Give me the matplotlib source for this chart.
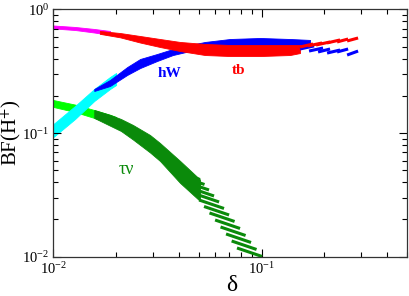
import numpy as np
import matplotlib
matplotlib.use("Agg")
import matplotlib.pyplot as plt

plt.rcParams['font.family'] = ['Liberation Serif', 'DejaVu Serif']
plt.rcParams['mathtext.fontset'] = 'stix'

# tau nu channel: light part (delta < 0.02) and dark part
tau_light_d = [0.010, 0.0127, 0.0157, 0.0187, 0.0200]
tau_light_hi = [0.185, 0.170, 0.1537, 0.1405, 0.135]
tau_light_lo = [0.1626, 0.148, 0.1325, 0.1207, 0.1163]

tau_dark_d = [0.0157, 0.0187, 0.0211, 0.0241, 0.0291, 0.0325, 0.0406, 0.0506]
tau_dark_hi = [0.1537, 0.1405, 0.130, 0.1163, 0.0965, 0.0831, 0.0595, 0.0421]
tau_dark_lo = [0.1325, 0.1148, 0.1040, 0.0887, 0.0697, 0.0595, 0.0395, 0.0282]

# tail of the tau nu band: single curves (left end -> right end)
tau_tail_d0 = [0.0762, 0.0718, 0.0675, 0.0635, 0.0598, 0.0562, 0.0529,
               0.0501, 0.0474, 0.0448, 0.0424, 0.0403, 0.0384]
tau_tail_b0 = [0.01176, 0.01340, 0.01527, 0.01739, 0.01981, 0.02258, 0.02548,
               0.02875, 0.03246, 0.03630, 0.04059, 0.04497, 0.04935]
tau_tail_d1 = [0.1006, 0.0946, 0.0890, 0.0838, 0.0788, 0.0742, 0.0698,
               0.0660, 0.0625, 0.0591, 0.0559, 0.0532, 0.0506]
tau_tail_b1 = [0.01004, 0.01144, 0.01303, 0.01484, 0.01691, 0.01927, 0.02175,
               0.02455, 0.02771, 0.03098, 0.03465, 0.03837, 0.04212]

# hW channel
hw_light_d = [0.010, 0.0127, 0.0157, 0.0187, 0.0200]
hw_light_hi = [0.1185, 0.1657, 0.2274, 0.2844, 0.3063]
hw_light_lo = [0.0930, 0.130, 0.1818, 0.2274, 0.2449]

hw_dark_d = [0.0157, 0.0187, 0.0226, 0.0261, 0.0315, 0.0375, 0.0453, 0.0535,
             0.0706, 0.0984, 0.137, 0.171]
hw_dark_hi = [0.2274, 0.2690, 0.342, 0.3977, 0.4365, 0.479, 0.516, 0.546,
              0.577, 0.588, 0.577, 0.567]
hw_dark_lo = [0.2191, 0.2404, 0.2952, 0.336, 0.3832, 0.428, 0.461, 0.479,
              0.497, 0.507, 0.497, 0.507]

hw_tail_d0 = [0.1531, 0.1691, 0.1869, 0.2065, 0.2307, 0.2577]
hw_tail_b0 = [0.479, 0.461, 0.453, 0.444, 0.453, 0.428]
hw_tail_d1 = [0.1788, 0.1975, 0.2134, 0.2384, 0.2606, 0.2910]
hw_tail_b1 = [0.507, 0.488, 0.479, 0.470, 0.479, 0.461]

# tb channel
tb_light_d = [0.010, 0.0127, 0.0157, 0.0187]
tb_light_hi = [0.742, 0.722, 0.6955, 0.670]
tb_light_lo = [0.702, 0.682, 0.651, 0.622]

tb_dark_d = [0.0167, 0.0209, 0.0261, 0.0325, 0.0406, 0.0535, 0.0706, 0.0984,
             0.137, 0.153]
tb_dark_hi = [0.670, 0.645, 0.610, 0.577, 0.546, 0.526, 0.516, 0.516,
              0.516, 0.516]
tb_dark_lo = [0.635, 0.595, 0.540, 0.497, 0.461, 0.428, 0.420, 0.420,
              0.428, 0.444]

tb_tail_d0 = [0.1531, 0.1673, 0.1828, 0.2065, 0.2307, 0.2577]
tb_tail_b0 = [0.497, 0.507, 0.516, 0.536, 0.546, 0.556]
tb_tail_d1 = [0.1768, 0.1954, 0.2134, 0.2384, 0.2606, 0.2910]
tb_tail_b1 = [0.526, 0.536, 0.546, 0.567, 0.577, 0.588]

GREEN = '#0a8a0a'

fig = plt.figure(figsize=(4.09, 2.96), dpi=100)
ax = fig.add_axes([0.1308, 0.1328, 0.8643, 0.8352])
ax.set_xscale('log')
ax.set_yscale('log')


def band(d, lo, hi, color):
    ax.fill_between(d, lo, hi, color=color, lw=0.6, edgecolor=color)


def tail(d0, b0, d1, b1, color):
    for i in range(len(d0)):
        ax.plot([d0[i], d1[i]], [b0[i], b1[i]], color=color, lw=2.2,
                solid_capstyle='butt')


band(tau_light_d, tau_light_lo, tau_light_hi, '#00ff00')
band(tau_dark_d, tau_dark_lo, tau_dark_hi, GREEN)
tail(tau_tail_d0, tau_tail_b0, tau_tail_d1, tau_tail_b1, GREEN)

band(hw_light_d, hw_light_lo, hw_light_hi, '#00ffff')
band(hw_dark_d, hw_dark_lo, hw_dark_hi, '#0000ff')
tail(hw_tail_d0, hw_tail_b0, hw_tail_d1, hw_tail_b1, '#0000ff')

band(tb_light_d, tb_light_lo, tb_light_hi, '#ff00ff')
band(tb_dark_d, tb_dark_lo, tb_dark_hi, '#ff0000')
tail(tb_tail_d0, tb_tail_b0, tb_tail_d1, tb_tail_b1, '#ff0000')

ax.text(0.0359, 0.306, 'hW', color='#0000ff', fontsize=11, fontweight='bold',
        ha='center', va='center')
ax.text(0.0771, 0.318, 'tb', color='#ff0000', fontsize=11, fontweight='bold',
        ha='center', va='center')
ax.text(0.0223, 0.0503, 'τν', color=GREEN, fontsize=13,
        ha='center', va='center')

ax.set_xlim(0.01, 0.5)
ax.set_ylim(0.01, 1.0)
ax.set_xlabel('δ', fontsize=17)
ax.set_ylabel(r'BF(H$^{+}$)', fontsize=15)
ax.xaxis.set_label_coords(0.505, -0.075)
ax.yaxis.set_label_coords(-0.085, 0.5)

ax.tick_params(which='both', direction='in', top=True, right=True,
               labelsize=10.5, pad=3)
ax.tick_params(axis='x', which='both', pad=3.5)
ax.tick_params(which='major', length=6, width=0.8)
ax.tick_params(which='minor', length=3.5, width=0.8)
for s in ax.spines.values():
    s.set_color('#333333')
    s.set_linewidth(0.9)

fig.savefig('out.png', dpi=100)
